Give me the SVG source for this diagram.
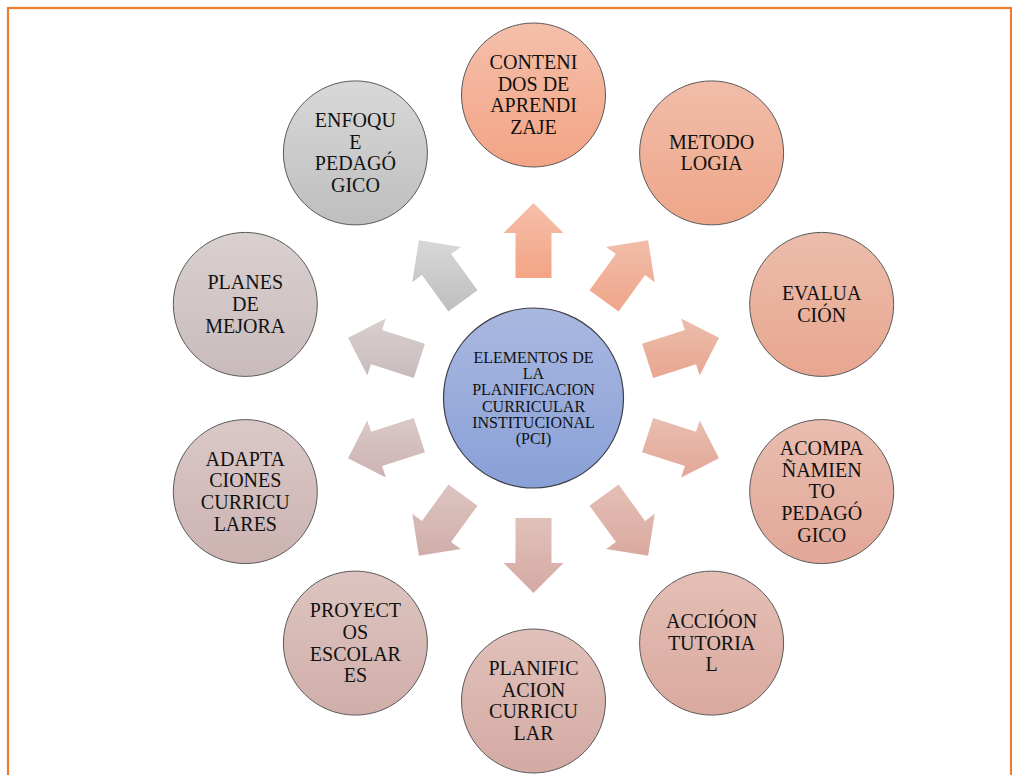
<svg xmlns="http://www.w3.org/2000/svg" width="1012" height="775" viewBox="0 0 1012 775">
<style>
.t{font-family:"Liberation Serif","Times New Roman",serif;font-size:20px;fill:#111;text-anchor:middle}
.tc{font-family:"Liberation Serif","Times New Roman",serif;font-size:16px;fill:#111;text-anchor:middle}
.c{stroke:#5a5a5a;stroke-width:1}
</style>
<defs>
<linearGradient id="g0" x1="0" y1="0" x2="0" y2="1"><stop offset="0" stop-color="#f5bfaa"/><stop offset="1" stop-color="#f3a485"/></linearGradient>
<linearGradient id="g1" x1="0" y1="0" x2="0" y2="1"><stop offset="0" stop-color="#f1bda9"/><stop offset="1" stop-color="#eea689"/></linearGradient>
<linearGradient id="g2" x1="0" y1="0" x2="0" y2="1"><stop offset="0" stop-color="#ecbdab"/><stop offset="1" stop-color="#e8a690"/></linearGradient>
<linearGradient id="g3" x1="0" y1="0" x2="0" y2="1"><stop offset="0" stop-color="#e9bdb0"/><stop offset="1" stop-color="#e2a797"/></linearGradient>
<linearGradient id="g4" x1="0" y1="0" x2="0" y2="1"><stop offset="0" stop-color="#e4bfb5"/><stop offset="1" stop-color="#daa99f"/></linearGradient>
<linearGradient id="g5" x1="0" y1="0" x2="0" y2="1"><stop offset="0" stop-color="#e0c1ba"/><stop offset="1" stop-color="#d4aaa3"/></linearGradient>
<linearGradient id="g6" x1="0" y1="0" x2="0" y2="1"><stop offset="0" stop-color="#ddc4c0"/><stop offset="1" stop-color="#d0aeaa"/></linearGradient>
<linearGradient id="g7" x1="0" y1="0" x2="0" y2="1"><stop offset="0" stop-color="#dac8c7"/><stop offset="1" stop-color="#ccb3b2"/></linearGradient>
<linearGradient id="g8" x1="0" y1="0" x2="0" y2="1"><stop offset="0" stop-color="#dad0d0"/><stop offset="1" stop-color="#c9bbbb"/></linearGradient>
<linearGradient id="g9" x1="0" y1="0" x2="0" y2="1"><stop offset="0" stop-color="#d8d8d8"/><stop offset="1" stop-color="#bebebe"/></linearGradient>
<linearGradient id="gc" x1="0" y1="0" x2="0" y2="1"><stop offset="0" stop-color="#a9b8e0"/><stop offset="1" stop-color="#89a0d7"/></linearGradient>
</defs>
<rect x="8" y="8" width="1003" height="800" fill="none" stroke="#ed7d31" stroke-width="2.2"/>
<g id="connectors">
<polygon fill="url(#g0)" points="515.5,278 551.5,278 551.5,233 563.5,233 533.5,203 503.5,233 515.5,233"/>
<polygon fill="url(#g1)" points="589.47,290.34 618.6,311.5 645.05,275.09 654.76,282.15 648.12,240.24 606.21,246.88 615.92,253.93"/>
<polygon fill="url(#g2)" points="642.07,343.8 653.19,378.04 695.99,364.13 699.7,375.54 718.96,337.74 681.15,318.48 684.86,329.89"/>
<polygon fill="url(#g3)" points="653.19,417.96 642.07,452.2 684.86,466.11 681.15,477.52 718.96,458.26 699.7,420.46 695.99,431.87"/>
<polygon fill="url(#g4)" points="589.47,505.66 618.6,484.5 645.05,520.91 654.76,513.85 648.12,555.76 606.21,549.12 615.92,542.07"/>
<polygon fill="url(#g5)" points="515.5,518 551.5,518 551.5,563 563.5,563 533.5,593 503.5,563 515.5,563"/>
<polygon fill="url(#g6)" points="477.53,505.66 448.4,484.5 421.95,520.91 412.24,513.85 418.88,555.76 460.79,549.12 451.08,542.07"/>
<polygon fill="url(#g7)" points="413.81,417.96 424.93,452.2 382.14,466.11 385.85,477.52 348.04,458.26 367.3,420.46 371.01,431.87"/>
<polygon fill="url(#g8)" points="424.93,343.8 413.81,378.04 371.01,364.13 367.3,375.54 348.04,337.74 385.85,318.48 382.14,329.89"/>
<polygon fill="url(#g9)" points="477.53,290.34 448.4,311.5 421.95,275.09 412.24,282.15 418.88,240.24 460.79,246.88 451.08,253.93"/>
</g>
<g id="center">
<circle cx="533.5" cy="398" r="90" fill="url(#gc)" stroke="#3f3f4a" stroke-width="1.2"/>
<text class="tc" x="533.5" y="362.6">ELEMENTOS DE</text>
<text class="tc" x="533.5" y="378.9">LA</text>
<text class="tc" x="533.5" y="395.2">PLANIFICACION</text>
<text class="tc" x="533.5" y="411.5">CURRICULAR</text>
<text class="tc" x="533.5" y="427.8">INSTITUCIONAL</text>
<text class="tc" x="533.5" y="444.1">(PCI)</text>
</g>
<g id="n0">
<circle class="c" cx="533.5" cy="95" r="72" fill="url(#g0)"/>
<text class="t" x="533.5" y="69.05">CONTENI</text>
<text class="t" x="533.5" y="90.75">DOS DE</text>
<text class="t" x="533.5" y="112.45">APRENDI</text>
<text class="t" x="533.5" y="134.15">ZAJE</text>
</g>
<g id="n1">
<circle class="c" cx="711.6" cy="152.9" r="72" fill="url(#g1)"/>
<text class="t" x="711.6" y="148.65">METODO</text>
<text class="t" x="711.6" y="170.35">LOGIA</text>
</g>
<g id="n2">
<circle class="c" cx="821.7" cy="304.4" r="72" fill="url(#g2)"/>
<text class="t" x="821.7" y="300.15">EVALUA</text>
<text class="t" x="821.7" y="321.85">CIÓN</text>
</g>
<g id="n3">
<circle class="c" cx="821.7" cy="491.6" r="72" fill="url(#g3)"/>
<text class="t" x="821.7" y="454.8">ACOMPA</text>
<text class="t" x="821.7" y="476.5">ÑAMIEN</text>
<text class="t" x="821.7" y="498.2">TO</text>
<text class="t" x="821.7" y="519.9">PEDAGÓ</text>
<text class="t" x="821.7" y="541.6">GICO</text>
</g>
<g id="n4">
<circle class="c" cx="711.6" cy="643.1" r="72" fill="url(#g4)"/>
<text class="t" x="711.6" y="628">ACCIÓON</text>
<text class="t" x="711.6" y="649.7">TUTORIA</text>
<text class="t" x="711.6" y="671.4">L</text>
</g>
<g id="n5">
<circle class="c" cx="533.5" cy="701" r="72" fill="url(#g5)"/>
<text class="t" x="533.5" y="675.05">PLANIFIC</text>
<text class="t" x="533.5" y="696.75">ACION</text>
<text class="t" x="533.5" y="718.45">CURRICU</text>
<text class="t" x="533.5" y="740.15">LAR</text>
</g>
<g id="n6">
<circle class="c" cx="355.4" cy="643.1" r="72" fill="url(#g6)"/>
<text class="t" x="355.4" y="617.15">PROYECT</text>
<text class="t" x="355.4" y="638.85">OS</text>
<text class="t" x="355.4" y="660.55">ESCOLAR</text>
<text class="t" x="355.4" y="682.25">ES</text>
</g>
<g id="n7">
<circle class="c" cx="245.3" cy="491.6" r="72" fill="url(#g7)"/>
<text class="t" x="245.3" y="465.65">ADAPTA</text>
<text class="t" x="245.3" y="487.35">CIONES</text>
<text class="t" x="245.3" y="509.05">CURRICU</text>
<text class="t" x="245.3" y="530.75">LARES</text>
</g>
<g id="n8">
<circle class="c" cx="245.3" cy="304.4" r="72" fill="url(#g8)"/>
<text class="t" x="245.3" y="289.3">PLANES</text>
<text class="t" x="245.3" y="311">DE</text>
<text class="t" x="245.3" y="332.7">MEJORA</text>
</g>
<g id="n9">
<circle class="c" cx="355.4" cy="152.9" r="72" fill="url(#g9)"/>
<text class="t" x="355.4" y="126.95">ENFOQU</text>
<text class="t" x="355.4" y="148.65">E</text>
<text class="t" x="355.4" y="170.35">PEDAGÓ</text>
<text class="t" x="355.4" y="192.05">GICO</text>
</g>
</svg>
